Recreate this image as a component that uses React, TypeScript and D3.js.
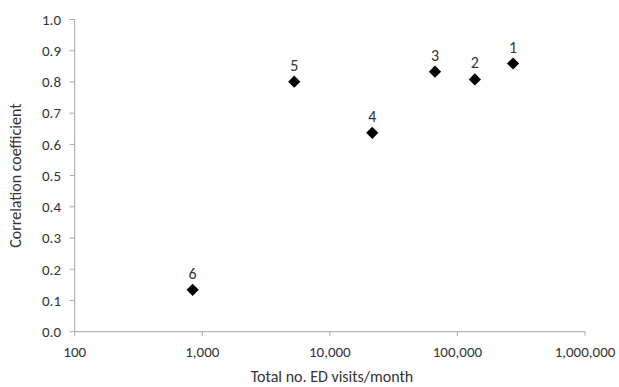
import React from 'react';
import * as d3 from 'd3';

// values
const siteLabels = ['1', '2', '3', '4', '5', '6'];
const edVisits = [273000, 137000, 66700, 21500, 5260, 840];
const correlation = [0.859, 0.808, 0.833, 0.637, 0.801, 0.134];
const xTickValues = [100, 1000, 10000, 100000, 1000000];
const yTickValues = [0, 0.1, 0.2, 0.3, 0.4, 0.5, 0.6, 0.7, 0.8, 0.9, 1.0];

const W = 619;
const H = 387;
const font = 'Carlito, Calibri, "Open Sans", sans-serif';
const axisColor = '#a6a6a6';
const textColor = '#333';

export default function App() {
    const x = d3.scaleLog().domain([100, 1000000]).range([74.7, 585]);
    const y = d3.scaleLinear().domain([0, 1]).range([331.7, 19.5]);
    const fmt = d3.format(',');
    const diamond = d3.symbol().type(d3.symbolDiamond2).size(95);

    return (
        <svg width={W} height={H} style={{ position: 'absolute', left: 0, top: 0 }}
            fontFamily={font}>
            <rect width={W} height={H} fill="#fff" />
            {/* y axis */}
            <line x1={x(100)} x2={x(100)} y1={y(1)} y2={y(0)} stroke={axisColor} strokeWidth={1} />
            {yTickValues.map(t => (
                <g key={t}>
                    <line x1={x(100) - 5} x2={x(100)} y1={y(t)} y2={y(t)} stroke={axisColor} />
                    <text x={61} y={y(t)} dy="0.35em" textAnchor="end" fontSize={15} fill={textColor}>
                        {t.toFixed(1)}
                    </text>
                </g>
            ))}
            {/* x axis */}
            <line x1={x(100)} x2={x(1000000)} y1={y(0)} y2={y(0)} stroke={axisColor} strokeWidth={1} />
            {xTickValues.map(t => (
                <g key={t}>
                    <line x1={x(t)} x2={x(t)} y1={y(0)} y2={y(0) + 4} stroke={axisColor} />
                    <text x={x(t)} y={357} textAnchor="middle" fontSize={15} fill={textColor}>
                        {fmt(t)}
                    </text>
                </g>
            ))}
            <text x={332} y={382} textAnchor="middle" fontSize={16} fill={textColor}>
                Total no. ED visits/month
            </text>
            <text transform={`translate(21,${(y(0) + y(1)) / 2}) rotate(-90)`} textAnchor="middle"
                fontSize={16} fill={textColor}>
                Correlation coefficient
            </text>
            {/* points */}
            {edVisits.map((v, i) => (
                <g key={siteLabels[i]}>
                    <path d={diamond() as string}
                        transform={`translate(${x(v)},${y(correlation[i])})`} fill="#000" />
                    <text x={x(v)} y={y(correlation[i]) - 11} textAnchor="middle" fontSize={16}
                        fill={textColor}>
                        {siteLabels[i]}
                    </text>
                </g>
            ))}
        </svg>
    );
}
